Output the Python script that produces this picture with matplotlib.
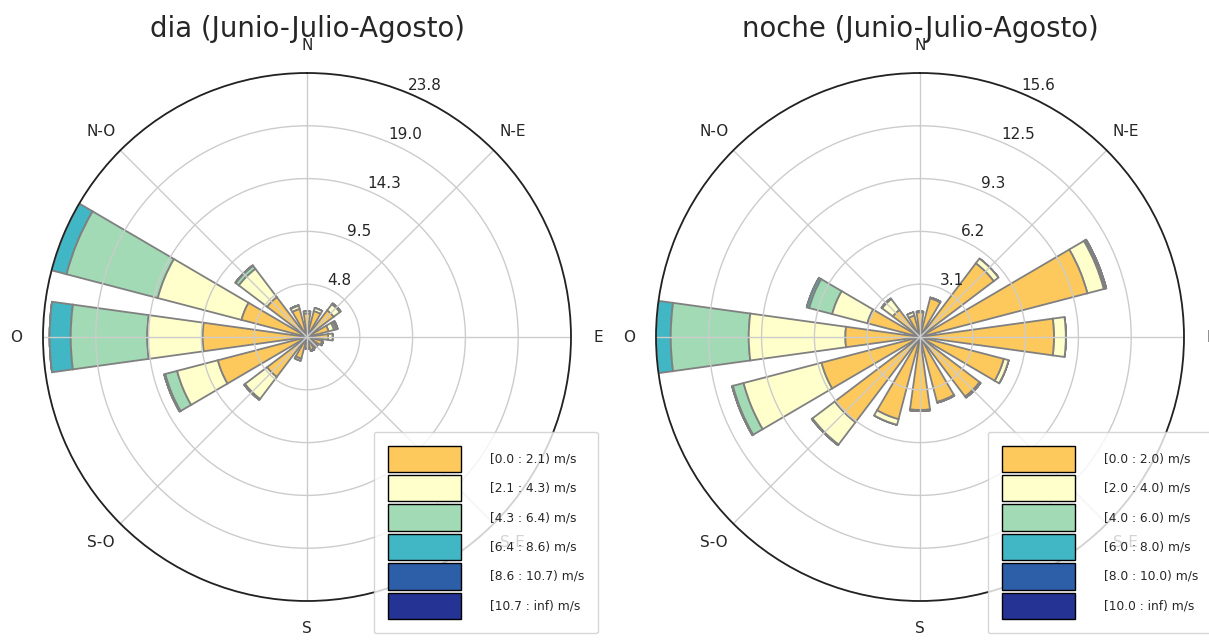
import numpy as np
import matplotlib
matplotlib.use('Agg')
import matplotlib.pyplot as plt
from matplotlib.patches import Rectangle

# 16 sectores, en grados de brujula (N=0, sentido horario)
DIRECCIONES = ['N', 'NNE', 'NE', 'ENE', 'E', 'ESE', 'SE', 'SSE',
               'S', 'SSO', 'SO', 'OSO', 'O', 'ONO', 'NO', 'NNO']
ANGULOS = np.arange(0, 360, 22.5)

ETIQUETAS_PUNTOS = ['N', 'N-E', 'E', 'S-E', 'S', 'S-O', 'O', 'N-O']

COLORES = ['#fec95c', '#ffffcc', '#a1dab4', '#41b6c4', '#2c5fa8', '#253494']

# frecuencias (%) por intervalo de velocidad - dia
dia_bins = ['[0.0 : 2.1) m/s', '[2.1 : 4.3) m/s', '[4.3 : 6.4) m/s',
            '[6.4 : 8.6) m/s', '[8.6 : 10.7) m/s', '[10.7 : inf) m/s']
dia_v0 = [2.1, 2.4, 3.0, 2.0, 1.9, 1.4, 1.1, 1.2, 1.0, 2.0, 4.5, 8.3, 9.4, 6.1, 4.5, 2.6]
dia_v1 = [0.2, 0.3, 0.7, 0.5, 0.4, 0.1, 0.1, 0.1, 0.05, 0.2, 2.5, 3.8, 5.0, 7.8, 3.2, 0.3]
dia_v2 = [0, 0, 0.1, 0.2, 0, 0, 0, 0, 0, 0, 0.1, 1.1, 6.9, 8.5, 0.35, 0.05]
dia_v3 = [0, 0, 0, 0.15, 0, 0, 0, 0, 0, 0, 0, 0.1, 1.9, 1.4, 0.05, 0]
dia_v4 = [0] * 16
dia_v5 = [0] * 16

# frecuencias (%) por intervalo de velocidad - noche
noche_bins = ['[0.0 : 2.0) m/s', '[2.0 : 4.0) m/s', '[4.0 : 6.0) m/s',
              '[6.0 : 8.0) m/s', '[8.0 : 10.0) m/s', '[10.0 : inf) m/s']
noche_v0 = [1.45, 2.35, 5.45, 10.2, 7.9, 5.1, 4.4, 3.95, 4.3, 5.0, 6.3, 6.0, 4.4, 3.2, 2.0, 1.3]
noche_v1 = [0.05, 0.05, 0.35, 1.0, 0.7, 0.3, 0.08, 0.05, 0.06, 0.35, 1.65, 4.75, 5.7, 2.15, 0.8, 0.2]
noche_v2 = [0, 0, 0, 0.08, 0, 0, 0, 0, 0, 0, 0.05, 0.65, 4.6, 1.4, 0.05, 0]
noche_v3 = [0, 0, 0, 0.07, 0, 0, 0, 0, 0, 0, 0, 0.05, 0.87, 0.15, 0, 0]
noche_v4 = [0] * 16
noche_v5 = [0] * 16

TXT = '#262626'
W, H = 1209, 641


def rosa_vientos(ax, tabla, bins, apertura=0.7):
    tabla = np.array(tabla, dtype=float)
    theta = np.deg2rad(ANGULOS)
    ancho = 2 * np.pi / len(ANGULOS) * apertura
    base = np.zeros(len(ANGULOS))
    for i, fila in enumerate(tabla):
        ax.bar(theta, fila, width=ancho, bottom=base, color=COLORES[i],
               edgecolor='grey', linewidth=1.3, zorder=-100 - i)
        base = base + fila

    rmax = base.max()
    ax.set_theta_zero_location('N')
    ax.set_theta_direction(-1)
    ax.set_ylim(0, rmax)
    radios = np.linspace(0, rmax, 6)[1:]
    ax.set_rgrids(radios, labels=['%.1f' % r for r in radios], angle=22.5,
                  fontsize=11, color=TXT)
    ax.set_thetagrids(np.arange(0, 360, 45), labels=ETIQUETAS_PUNTOS,
                      fontsize=11, color=TXT)
    ax.tick_params(axis='x', pad=9)
    ax.grid(True, color='#cccccc', linewidth=1.0)
    ax.spines['polar'].set_color('#222222')
    ax.spines['polar'].set_linewidth(1.3)

    handles = [Rectangle((0, 0), 0.2, 0.2, facecolor=COLORES[i], edgecolor='black')
               for i in range(len(bins))]
    return handles


fig = plt.figure(figsize=(W / 100, H / 100), dpi=100)

paneles = [
    (43, 307, [dia_v0, dia_v1, dia_v2, dia_v3, dia_v4, dia_v5], dia_bins,
     'dia (Junio-Julio-Agosto)', 374),
    (656, 920, [noche_v0, noche_v1, noche_v2, noche_v3, noche_v4, noche_v5], noche_bins,
     'noche (Junio-Julio-Agosto)', 988),
]

for x0, xc, tabla, bins, titulo, xleg in paneles:
    ax = fig.add_axes([x0 / W, 40 / H, 528 / W, 528 / H], projection='polar')
    handles = rosa_vientos(ax, tabla, bins)
    fig.text(xc / W, 1 - 37 / H, titulo, ha='center', va='baseline',
             fontsize=19.8, color=TXT)
    leg = ax.legend(handles, bins, loc='lower left',
                    bbox_to_anchor=(xleg / W, 8 / H), bbox_transform=fig.transFigure,
                    borderaxespad=0, fontsize=8.8, handlelength=6.0, handleheight=2.95,
                    labelspacing=0.24, handletextpad=2.3, borderpad=1.15)
    for t in leg.get_texts():
        t.set_color(TXT)

fig.savefig('out.png', dpi=100)
